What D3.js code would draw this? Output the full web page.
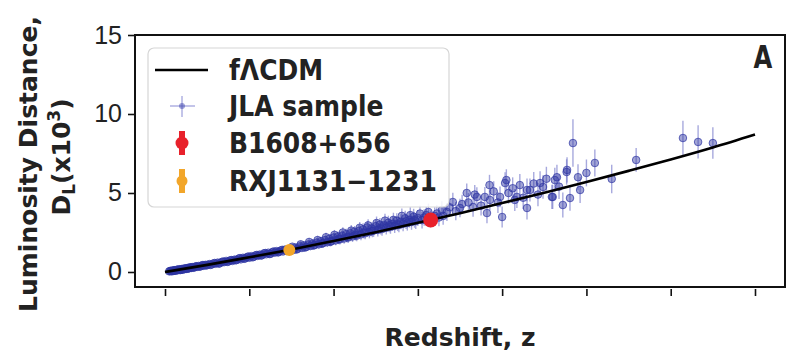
<!DOCTYPE html>
<html>
<head>
<meta charset="utf-8">
<script src="https://cdn.jsdelivr.net/npm/d3@7"></script>
<style>
  body { margin: 0; background: #fff; }
  svg { display: block; }
  .tick text { font-family: "Liberation Sans", Arial, sans-serif; font-size: 25px; fill: #222; }
  .tick line { stroke: #111; stroke-width: 1.6; }
  .lab { font-family: "DejaVu Sans", sans-serif; font-weight: bold; font-size: 25px; fill: #222; }
</style>
</head>
<body>
<div id="chart"></div>
<script>
// fLCDM model curve (redshift, luminosity distance x10^3)
var curveZ = [0, 0.1, 0.2, 0.3, 0.4, 0.5, 0.6, 0.7, 0.8, 0.9, 1.0, 1.1, 1.2, 1.3, 1.4];
var curveD = [0, 0.45, 0.93, 1.42, 1.96, 2.52, 3.11, 3.72, 4.36, 5.02, 5.70, 6.40, 7.12, 7.88, 8.70];

// JLA sample: [z, D_L, error]
var jla = [
  [0.010,0.04,0.03],[0.012,0.06,0.03],[0.015,0.05,0.03],[0.018,0.09,0.03],[0.020,0.07,0.03],
  [0.023,0.11,0.03],[0.025,0.10,0.03],[0.028,0.14,0.04],[0.030,0.12,0.04],[0.033,0.13,0.04],
  [0.035,0.17,0.04],[0.038,0.15,0.04],[0.040,0.19,0.04],[0.043,0.16,0.04],[0.045,0.22,0.05],
  [0.048,0.20,0.05],[0.050,0.24,0.05],[0.053,0.21,0.05],[0.055,0.27,0.05],[0.058,0.24,0.05],
  [0.060,0.29,0.05],[0.063,0.26,0.05],[0.066,0.31,0.06],[0.070,0.30,0.06],[0.073,0.35,0.06],
  [0.076,0.32,0.06],[0.080,0.38,0.06],[0.084,0.35,0.06],[0.088,0.42,0.07],[0.092,0.39,0.07],
  [0.096,0.45,0.07],[0.100,0.43,0.07],[0.105,0.50,0.08],[0.110,0.47,0.08],[0.115,0.54,0.08],
  [0.120,0.52,0.08],[0.125,0.59,0.09],[0.130,0.55,0.09],[0.135,0.64,0.09],[0.140,0.62,0.10],
  [0.145,0.70,0.10],[0.150,0.66,0.10],[0.155,0.74,0.10],[0.160,0.70,0.11],[0.165,0.78,0.11],
  [0.170,0.76,0.11],[0.175,0.85,0.12],[0.180,0.80,0.12],[0.185,0.90,0.12],[0.190,0.86,0.13],
  [0.195,0.95,0.13],[0.200,0.90,0.13],[0.205,1.00,0.14],[0.210,0.96,0.14],[0.215,1.05,0.14],
  [0.220,1.02,0.15],[0.225,1.10,0.15],[0.230,1.06,0.15],[0.235,1.18,0.16],[0.240,1.12,0.16],
  [0.245,1.22,0.16],[0.250,1.15,0.17],[0.255,1.26,0.17],[0.260,1.22,0.18],[0.265,1.32,0.18],
  [0.270,1.26,0.18],[0.275,1.36,0.19],[0.280,1.30,0.19],[0.285,1.42,0.20],[0.290,1.36,0.20],
  [0.300,1.48,0.21],[0.305,1.40,0.21],[0.310,1.55,0.22],[0.315,1.47,0.22],[0.320,1.62,0.23],
  [0.325,1.52,0.23],[0.330,1.68,0.24],[0.335,1.58,0.24],[0.340,1.74,0.25],[0.345,1.64,0.25],
  [0.350,1.80,0.26],[0.355,1.70,0.26],[0.360,1.86,0.27],[0.365,1.75,0.27],[0.370,1.95,0.28],
  [0.375,1.82,0.28],[0.380,2.02,0.29],[0.385,1.88,0.29],[0.390,2.10,0.30],[0.395,1.94,0.30],
  [0.400,2.18,0.31],[0.405,2.00,0.31],[0.410,2.25,0.32],[0.415,2.06,0.32],[0.420,2.30,0.33],
  [0.425,2.12,0.33],[0.430,2.40,0.34],[0.435,2.18,0.34],[0.440,2.45,0.35],[0.445,2.25,0.35],
  [0.450,2.55,0.36],[0.455,2.30,0.36],[0.460,2.60,0.37],[0.465,2.38,0.37],[0.470,2.70,0.38],
  [0.475,2.45,0.38],[0.480,2.82,0.39],[0.485,2.52,0.39],[0.490,2.75,0.40],[0.495,2.62,0.40],
  [0.500,2.90,0.41],[0.505,2.66,0.41],[0.510,3.00,0.42],[0.515,2.72,0.42],[0.520,2.95,0.43],
  [0.525,2.80,0.43],[0.530,3.12,0.44],[0.535,2.86,0.44],[0.540,3.05,0.45],[0.545,2.92,0.45],
  [0.550,3.25,0.46],[0.555,2.98,0.46],[0.560,3.18,0.47],[0.565,3.05,0.47],[0.570,3.40,0.48],
  [0.575,3.10,0.48],[0.580,3.30,0.49],[0.585,3.16,0.49],[0.590,3.50,0.50],[0.595,3.22,0.50],
  [0.600,3.42,0.51],[0.610,3.28,0.52],[0.620,3.60,0.53],[0.630,3.35,0.53],[0.640,3.55,0.54],
  [0.650,3.45,0.55],[0.657,3.92,0.56],[0.669,3.80,0.57],[0.683,4.43,0.58],[0.700,4.05,0.59],
  [0.716,5.00,0.60],[0.731,4.11,0.61],[0.740,4.75,0.62],[0.759,4.75,0.63],[0.764,3.73,0.64],
  [0.771,4.56,0.65],[0.770,5.50,0.65],[0.795,4.75,0.66],[0.800,3.48,0.67],[0.807,5.63,0.68],
  [0.810,5.82,0.68],[0.830,4.56,0.70],[0.835,4.75,0.70],[0.842,5.50,0.71],[0.859,5.19,0.72],
  [0.859,4.05,0.72],[0.866,5.19,0.73],[0.890,5.63,0.75],[0.897,5.38,0.75],[0.918,4.75,0.77],
  [0.920,4.75,0.77],[0.925,5.82,0.78],[0.930,6.00,0.78],[0.944,4.24,0.79],[0.953,6.33,0.80],
  [0.954,6.46,0.80],[0.961,4.68,0.81],[0.968,8.16,1.50],[0.980,6.00,0.82],[0.985,5.19,0.83],
  [1.000,6.27,0.85],[1.020,6.90,0.86],[1.060,5.89,0.90],[1.118,7.09,0.75],[1.229,8.48,1.10],
  [1.265,8.23,1.05],[1.300,8.16,1.00],
  [0.014,0.08,0.03],[0.017,0.05,0.03],[0.021,0.10,0.03],[0.026,0.08,0.03],[0.031,0.16,0.04],
  [0.036,0.12,0.04],[0.041,0.15,0.04],[0.046,0.18,0.05],[0.051,0.20,0.05],[0.056,0.23,0.05],
  [0.062,0.30,0.05],[0.068,0.27,0.06],[0.074,0.36,0.06],[0.082,0.34,0.06],[0.090,0.44,0.07],
  [0.098,0.42,0.07],[0.108,0.45,0.08],[0.118,0.57,0.08],[0.128,0.53,0.09],[0.138,0.66,0.09],
  [0.148,0.64,0.10],[0.158,0.75,0.10],[0.168,0.74,0.11],[0.178,0.88,0.12],[0.188,0.84,0.12],
  [0.198,0.98,0.13],[0.208,0.93,0.14],[0.218,1.08,0.14],[0.228,1.04,0.15],[0.238,1.20,0.16],
  [0.248,1.14,0.16],[0.258,1.30,0.17],[0.268,1.24,0.18],[0.278,1.40,0.19],[0.288,1.33,0.20],
  [0.302,1.60,0.21],[0.312,1.42,0.22],[0.322,1.75,0.23],[0.332,1.55,0.24],[0.342,1.90,0.25],
  [0.352,1.68,0.26],[0.362,2.02,0.27],[0.372,1.80,0.28],[0.382,2.20,0.29],[0.392,1.92,0.30],
  [0.402,2.35,0.31],[0.412,2.08,0.32],[0.422,2.50,0.33],[0.432,2.20,0.34],[0.442,2.62,0.35],
  [0.452,2.35,0.36],[0.462,2.80,0.37],[0.472,2.50,0.38],[0.482,2.95,0.39],[0.492,2.60,0.40],
  [0.502,3.10,0.41],[0.512,2.80,0.42],[0.522,3.25,0.43],[0.532,2.95,0.44],[0.542,3.30,0.45],
  [0.552,3.05,0.46],[0.562,3.55,0.47],[0.572,3.20,0.48],[0.582,3.60,0.49],[0.592,3.30,0.50],
  [0.605,3.70,0.51],[0.615,3.45,0.52],[0.625,3.80,0.53],[0.645,3.70,0.54],[0.660,3.55,0.56],
  [0.675,4.10,0.57],[0.690,3.85,0.58],[0.705,4.30,0.59],[0.720,4.40,0.60],[0.735,4.90,0.61],
  [0.750,4.20,0.62],[0.780,5.10,0.65],[0.790,4.40,0.66],[0.815,5.00,0.68],[0.825,5.30,0.69],
  [0.850,4.70,0.71],[0.875,5.60,0.73],[0.885,4.90,0.74],[0.905,5.90,0.76],[0.935,5.40,0.78]
];

// strong lens points
var lensNames = ["B1608+656", "RXJ1131\u22121231"];
var lensZ = [0.6304, 0.295];
var lensD = [3.29, 1.39];
var lensErr = [0.25, 0.15];
var lensColors = ["#e8212b", "#f2a62a"];

var xTicks = [0, 0.2, 0.4, 0.6, 0.8, 1.0, 1.2, 1.4];
var yTicks = [0, 5, 10, 15];

var width = 800, height = 351;

var svg = d3.select("#chart").append("svg")
    .attr("width", width)
    .attr("height", height);

var xScale = d3.scaleLinear().domain([-0.0712, 1.4712]).range([135, 785]);
var yScale = d3.scaleLinear().domain([-0.95, 15]).range([287, 35]);

var x0 = xScale.range()[0], x1 = xScale.range()[1];
var yb = yScale.range()[0], yt = yScale.range()[1];

// x ticks (no labels)
svg.append("g")
    .attr("transform", "translate(0," + (yb + 2) + ")")
    .call(d3.axisBottom(xScale).tickValues(xTicks).tickSize(7).tickFormat(""))
    .call(function(g) { g.select(".domain").remove(); });

// y ticks
svg.append("g")
    .attr("transform", "translate(" + x0 + ",0)")
    .call(d3.axisLeft(yScale).tickValues(yTicks).tickSize(7).tickPadding(6))
    .call(function(g) { g.select(".domain").remove(); });

// JLA error bars
svg.append("g").selectAll("line")
    .data(jla)
    .enter()
    .append("line")
    .attr("x1", function(d) { return xScale(d[0]); })
    .attr("x2", function(d) { return xScale(d[0]); })
    .attr("y1", function(d) { return yScale(d[1] - d[2]); })
    .attr("y2", function(d) { return yScale(d[1] + d[2]); })
    .attr("stroke", "#6d70c6")
    .attr("stroke-opacity", 0.6)
    .attr("stroke-width", 1.4);

// JLA points
svg.append("g").selectAll("circle")
    .data(jla)
    .enter()
    .append("circle")
    .attr("cx", function(d) { return xScale(d[0]); })
    .attr("cy", function(d) { return yScale(d[1]); })
    .attr("r", 3.8)
    .attr("fill", "#2e35a2")
    .attr("fill-opacity", 0.45)
    .attr("stroke", "#2e35a2")
    .attr("stroke-opacity", 0.7)
    .attr("stroke-width", 1);

// model line
var valueLine = d3.line()
    .x(function(d, i) { return xScale(curveZ[i]); })
    .y(function(d, i) { return yScale(curveD[i]); })
    .curve(d3.curveMonotoneX);

svg.append("path")
    .attr("d", valueLine(curveZ))
    .attr("fill", "none")
    .attr("stroke", "#000")
    .attr("stroke-width", 2.6);

// lens points
lensZ.forEach(function(z, i) {
    var g = svg.append("g").attr("fill", lensColors[i]).attr("stroke", lensColors[i]);
    g.append("line")
        .attr("x1", xScale(z)).attr("x2", xScale(z))
        .attr("y1", yScale(lensD[i] - lensErr[i])).attr("y2", yScale(lensD[i] + lensErr[i]))
        .attr("stroke-width", 6);
    g.append("circle")
        .attr("cx", xScale(z)).attr("cy", yScale(lensD[i]))
        .attr("r", i == 0 ? 7.5 : 6)
        .attr("stroke-width", 0);
});

// frame
svg.append("rect")
    .attr("x", x0).attr("y", yt)
    .attr("width", x1 - x0).attr("height", yb - yt)
    .attr("fill", "none")
    .attr("stroke", "#111")
    .attr("stroke-width", 2);

// legend
var legendLabels = ["f\u039BCDM", "JLA sample"].concat(lensNames);
var leg = svg.append("g");
leg.append("rect")
    .attr("x", 148).attr("y", 48)
    .attr("width", 301).attr("height", 159)
    .attr("rx", 6)
    .attr("fill", "#fff").attr("fill-opacity", 0.85)
    .attr("stroke", "#d6d6d6").attr("stroke-width", 1.2);

var rowY = [70, 106, 143, 181];
leg.append("line")
    .attr("x1", 155).attr("x2", 208)
    .attr("y1", rowY[0]).attr("y2", rowY[0])
    .attr("stroke", "#000").attr("stroke-width", 2.6);

leg.append("line").attr("x1", 170).attr("x2", 195).attr("y1", rowY[1]).attr("y2", rowY[1])
    .attr("stroke", "#7c7fcf").attr("stroke-opacity", 0.7).attr("stroke-width", 1.3);
leg.append("line").attr("x1", 182).attr("x2", 182).attr("y1", rowY[1] - 10).attr("y2", rowY[1] + 11)
    .attr("stroke", "#7c7fcf").attr("stroke-opacity", 0.7).attr("stroke-width", 1.3);
leg.append("circle").attr("cx", 182).attr("cy", rowY[1]).attr("r", 3)
    .attr("fill", "#3d43ad").attr("fill-opacity", 0.5);

[2, 3].forEach(function(k) {
    var c = lensColors[k - 2];
    leg.append("line").attr("x1", 182).attr("x2", 182)
        .attr("y1", rowY[k] - 12).attr("y2", rowY[k] + 12)
        .attr("stroke", c).attr("stroke-width", 6);
    leg.append("circle").attr("cx", 182).attr("cy", rowY[k]).attr("r", k == 2 ? 6.5 : 5.5)
        .attr("fill", c);
});

leg.selectAll("text.leg")
    .data(legendLabels)
    .enter()
    .append("text")
    .attr("class", "lab leg")
    .attr("transform", function(d, i) {
        return "translate(229," + (rowY[i] + 10) + ") scale(1,1.12)";
    })
    .text(function(d) { return d; });

// panel letter
svg.append("text")
    .attr("transform", "translate(763,68) scale(0.9,1.05)")
    .attr("text-anchor", "middle")
    .style("font-family", "'DejaVu Sans Condensed', 'DejaVu Sans', sans-serif")
    .style("font-weight", "bold")
    .style("font-size", "30px")
    .style("fill", "#222")
    .text("A");

// axis labels
svg.append("text")
    .attr("class", "lab")
    .attr("x", (x0 + x1) / 2).attr("y", 346)
    .attr("text-anchor", "middle")
    .text("Redshift, z");

var yl = svg.append("text")
    .attr("class", "lab")
    .attr("text-anchor", "middle")
    .attr("transform", "translate(37,164) rotate(-90)");
yl.append("tspan").attr("x", 0).attr("y", 0).text("Luminosity Distance,");
var l2 = svg.append("text")
    .attr("class", "lab")
    .attr("text-anchor", "middle")
    .attr("transform", "translate(70,157) rotate(-90)");
l2.append("tspan").text("D");
l2.append("tspan").attr("dy", 5).style("font-size", "17px").text("L");
l2.append("tspan").attr("dy", -5).text("(x10");
l2.append("tspan").attr("dy", -10).style("font-size", "17px").text("3");
l2.append("tspan").attr("dy", 10).text(")");
</script>
</body>
</html>
